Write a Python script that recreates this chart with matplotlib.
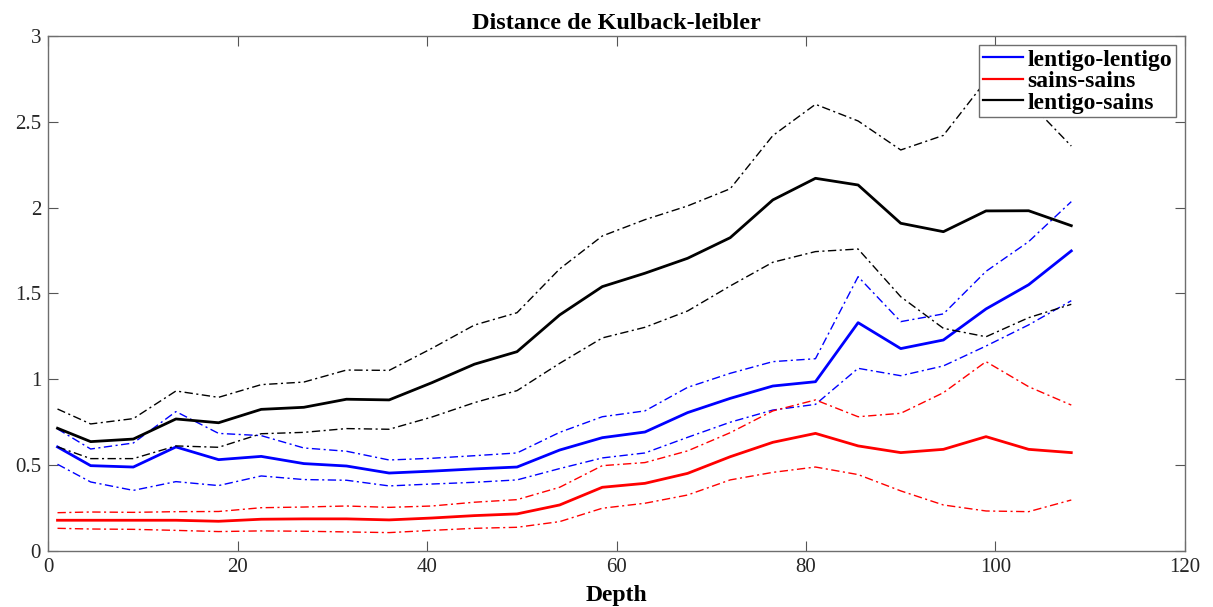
import numpy as np
import matplotlib.pyplot as plt

plt.rcParams['font.family'] = ['Liberation Serif', 'DejaVu Serif']

depth = [1, 4.5, 9, 13.5, 18, 22.5, 27, 31.5, 36, 40.5, 45, 49.5, 54,
         58.5, 63, 67.5, 72, 76.5, 81, 85.5, 90, 94.5, 99, 103.5, 108]

# lentigo-lentigo (blue)
ll_mean = [0.606, 0.497, 0.489, 0.606, 0.532, 0.551, 0.509, 0.495, 0.454, 0.465,
           0.478, 0.489, 0.588, 0.660, 0.693, 0.806, 0.889, 0.961, 0.986, 1.330,
           1.179, 1.229, 1.410, 1.551, 1.748]
ll_up = [0.711, 0.594, 0.629, 0.812, 0.685, 0.672, 0.600, 0.581, 0.530, 0.540,
         0.555, 0.571, 0.691, 0.782, 0.816, 0.953, 1.035, 1.103, 1.120, 1.598,
         1.336, 1.381, 1.629, 1.802, 2.035]
ll_lo = [0.505, 0.402, 0.353, 0.404, 0.381, 0.437, 0.416, 0.412, 0.379, 0.390,
         0.400, 0.414, 0.480, 0.542, 0.571, 0.662, 0.750, 0.821, 0.854, 1.064,
         1.021, 1.078, 1.194, 1.317, 1.458]

# sains-sains (red)
ss_mean = [0.179, 0.179, 0.179, 0.179, 0.173, 0.185, 0.187, 0.187, 0.181, 0.192,
           0.206, 0.216, 0.268, 0.371, 0.394, 0.452, 0.549, 0.633, 0.685, 0.612,
           0.573, 0.592, 0.666, 0.592, 0.573]
ss_up = [0.223, 0.227, 0.225, 0.229, 0.230, 0.252, 0.256, 0.262, 0.254, 0.262,
         0.284, 0.299, 0.371, 0.497, 0.515, 0.583, 0.689, 0.816, 0.880, 0.782,
         0.802, 0.922, 1.103, 0.957, 0.850]
ss_lo = [0.132, 0.128, 0.126, 0.120, 0.113, 0.117, 0.115, 0.111, 0.107, 0.120,
         0.132, 0.138, 0.171, 0.249, 0.278, 0.326, 0.414, 0.458, 0.489, 0.445,
         0.350, 0.268, 0.233, 0.229, 0.297]

# lentigo-sains (black)
ls_mean = [0.715, 0.637, 0.652, 0.769, 0.747, 0.825, 0.837, 0.884, 0.880, 0.980,
           1.088, 1.161, 1.375, 1.540, 1.618, 1.705, 1.825, 2.045, 2.171, 2.132,
           1.909, 1.860, 1.981, 1.982, 1.895]
ls_up = [0.827, 0.740, 0.771, 0.932, 0.895, 0.969, 0.984, 1.054, 1.052, 1.180,
         1.316, 1.388, 1.643, 1.835, 1.930, 2.010, 2.110, 2.420, 2.602, 2.505,
         2.336, 2.421, 2.740, 2.617, 2.359]
ls_lo = [0.607, 0.538, 0.538, 0.612, 0.604, 0.683, 0.691, 0.713, 0.709, 0.780,
         0.864, 0.934, 1.093, 1.241, 1.303, 1.398, 1.544, 1.682, 1.744, 1.759,
         1.481, 1.297, 1.248, 1.359, 1.437]

fig = plt.figure(figsize=(12.13, 6.07), dpi=100)
ax = fig.add_axes([0.0396, 0.0923, 0.9373, 0.8484])

dd = (0, (6, 2.5, 1.5, 2.5))
series = [
    ('lentigo-lentigo', 'blue', ll_mean, ll_up, ll_lo),
    ('sains-sains', 'red', ss_mean, ss_up, ss_lo),
    ('lentigo-sains', 'black', ls_mean, ls_up, ls_lo),
]
for name, c, m, up, lo in series:
    ax.plot(depth, m, color=c, lw=2.0, label=name)
    ax.plot(depth, up, color=c, lw=1.0, linestyle=dd)
    ax.plot(depth, lo, color=c, lw=1.0, linestyle=dd)

ax.set_xlim(0, 120)
ax.set_ylim(0, 3)
ax.set_xticks(np.arange(0, 121, 20))
ax.set_yticks(np.arange(0, 3.01, 0.5))
ax.set_yticklabels(['0', '0.5', '1', '1.5', '2', '2.5', '3'])

for s in ax.spines.values():
    s.set_color('#6e6e6e')
    s.set_linewidth(1.0)
ax.tick_params(direction='in', top=True, right=True, length=7.5, width=0.8,
               color='#555555', labelcolor='#262626', labelsize=15, pad=5)

ax.set_title('Distance de Kulback-leibler', fontsize=17.5, fontweight='bold', pad=5)
ax.set_xlabel('Depth', fontsize=17, fontweight='bold', labelpad=6)

leg = ax.legend(loc='upper right', prop={'weight': 'bold', 'size': 17},
                handlelength=1.7, handletextpad=0.2, borderpad=0.15, labelspacing=0.0,
                borderaxespad=0.4, fancybox=False, framealpha=1)
leg.get_frame().set_edgecolor('#6e6e6e')
leg.get_frame().set_linewidth(1.0)
for h in leg.get_lines():
    h.set_linewidth(1.6)

plt.savefig('out.png', dpi=100)
